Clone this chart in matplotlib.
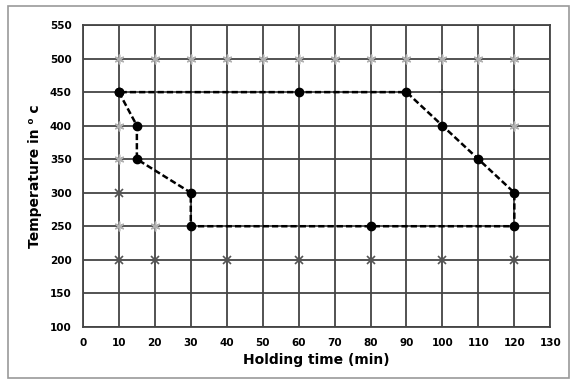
import numpy as np
import matplotlib.pyplot as plt
from matplotlib.patches import Rectangle

# process window boundary (black dots, dashed)
path_time = [10, 15, 15, 30, 30, 80, 120, 120, 110, 100, 90, 60, 10]
path_temp = [450, 400, 350, 300, 250, 250, 250, 300, 350, 400, 450, 450, 450]

# tested points outside the window (grey asterisks)
star_time = [10, 20, 30, 40, 50, 60, 70, 80, 90, 100, 110, 120, 10, 120, 10, 10, 20]
star_temp = [500, 500, 500, 500, 500, 500, 500, 500, 500, 500, 500, 500, 400, 400, 350, 250, 250]

# small plus marks
plus_time = [100, 120]
plus_temp = [450, 450]

# crosses
cross_time = [10, 10, 20, 40, 60, 80, 100, 120]
cross_temp = [300, 200, 200, 200, 200, 200, 200, 200]

fig = plt.figure(figsize=(5.72, 3.8), dpi=100)
ax = fig.add_axes([0.145, 0.14, 0.817, 0.794])

fig.patches.append(Rectangle((0.014, 0.005), 0.98, 0.978, transform=fig.transFigure,
                             fill=False, edgecolor='#999999', linewidth=1.2))

ax.plot(star_time, star_temp, linestyle='none', marker=(6, 2, 0), markersize=7,
        color='#b0b0b0', markeredgewidth=1.1, zorder=3)
ax.plot(plus_time, plus_temp, linestyle='none', marker='+', markersize=5,
        color='#444444', markeredgewidth=1.2, zorder=3)
ax.plot(cross_time, cross_temp, linestyle='none', marker='x', markersize=6,
        color='#555555', markeredgewidth=1.2, zorder=3)
ax.plot(path_time, path_temp, linestyle=(0, (2.5, 1.2)), color='black', linewidth=1.8,
        marker='o', markersize=6, zorder=4)

ax.set_xlim(0, 130)
ax.set_ylim(100, 550)
ax.set_xticks(np.arange(0, 131, 10))
ax.set_yticks(np.arange(100, 551, 50))
ax.grid(True, color='#444444', linewidth=1.3)
ax.set_axisbelow(True)
for s in ax.spines.values():
    s.set_color('#444444')
    s.set_linewidth(1.3)
ax.tick_params(length=0, labelsize=7.5, pad=8)
for lab in ax.get_xticklabels() + ax.get_yticklabels():
    lab.set_fontweight('bold')

ax.set_xlabel('Holding time (min)', fontsize=10, fontweight='bold', labelpad=4)
ax.set_ylabel('Temperature in \u2070 c', fontsize=10, fontweight='bold', labelpad=6)

plt.savefig('out.png', dpi=100)
